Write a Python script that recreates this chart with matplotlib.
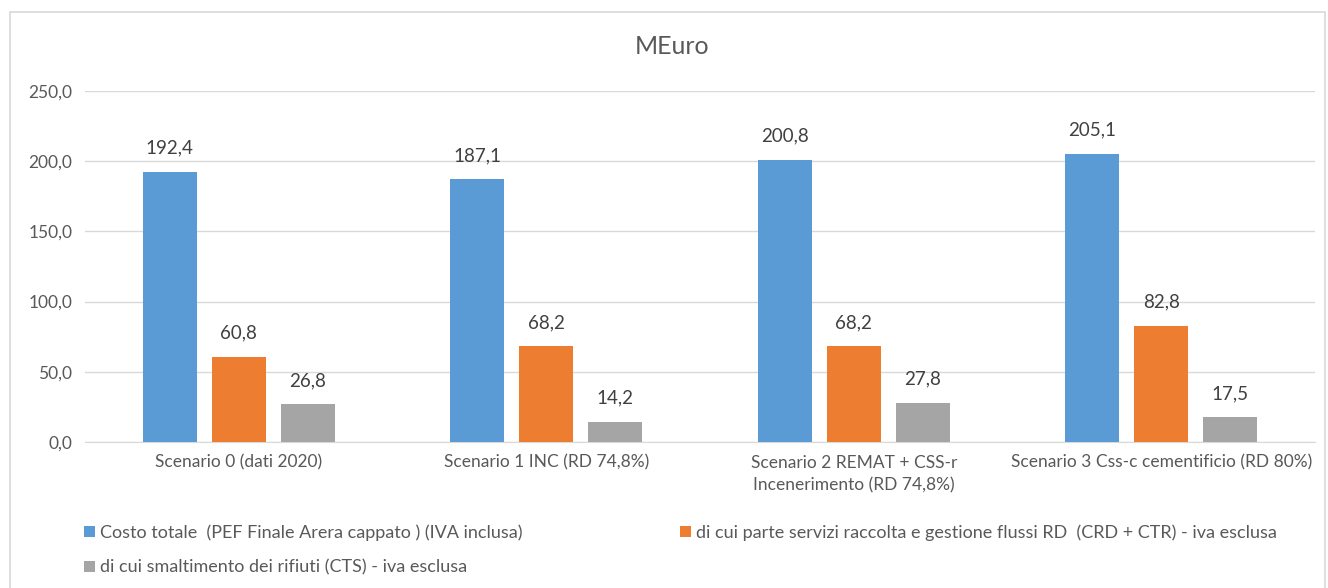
import numpy as np
import matplotlib.pyplot as plt
from matplotlib.patches import Rectangle

plt.rcParams['font.family'] = ['Lato', 'DejaVu Sans']

scenari = ['Scenario 0 (dati 2020)', 'Scenario 1 INC (RD 74,8%)',
           'Scenario 2 REMAT + CSS-r\nIncenerimento (RD 74,8%)',
           'Scenario 3 Css-c cementificio (RD 80%)']
costo_totale = [192.4, 187.1, 200.8, 205.1]
servizi_rd = [60.8, 68.2, 68.2, 82.8]
smaltimento = [26.8, 14.2, 27.8, 17.5]
serie_nomi = ['Costo totale  (PEF Finale Arera cappato ) (IVA inclusa)',
              'di cui parte servizi raccolta e gestione flussi RD  (CRD + CTR) - iva esclusa',
              'di cui smaltimento dei rifiuti (CTS) - iva esclusa']
colori = ['#5B9BD5', '#ED7D31', '#A5A5A5']
testo = '#595959'

fig = plt.figure(figsize=(13.28, 5.88), dpi=100)
fig.patches.append(Rectangle((10/1328, -0.05), 1315/1328, 1 - 12/588 + 0.05,
                             transform=fig.transFigure, fill=False,
                             edgecolor='#D9D9D9', linewidth=1.2))
ax = fig.add_axes([85/1328, 146/588, 1230/1328, 351/588])

x = np.arange(len(scenari))
w = 0.176
passo = 0.225
handles = []
for i, (vals, nome, col) in enumerate(zip([costo_totale, servizi_rd, smaltimento], serie_nomi, colori)):
    bars = ax.bar(x + (i - 1) * passo, vals, w, color=col, label=nome, zorder=3)
    ax.bar_label(bars, labels=[f'{v:.1f}'.replace('.', ',') for v in vals],
                 padding=11, fontsize=13.5, color='#404040')
    handles.append(bars)

ax.set_xlim(-0.5, len(scenari) - 0.5)
ax.set_ylim(0, 250)
ax.set_yticks(np.arange(0, 251, 50))
ax.set_yticklabels([f'{v:.1f}'.replace('.', ',') for v in np.arange(0, 251, 50)])
ax.set_xticks(x)
ax.set_xticklabels(scenari, linespacing=1.55)
ax.tick_params(axis='both', length=0, labelsize=12.5, colors=testo)
ax.tick_params(axis='x', pad=9)
ax.tick_params(axis='y', pad=9)
ax.grid(axis='y', color='#D9D9D9', linewidth=1, zorder=0)
for s in ['top', 'right', 'left']:
    ax.spines[s].set_visible(False)
ax.spines['bottom'].set_color('#D9D9D9')

fig.text(672/1328, 1 - 47/588, 'MEuro', ha='center', va='center', fontsize=18, color=testo)

# colonne riempite dall'alto: blu e grigio a sinistra, arancio a destra
ordine = [0, 2, 1]
fig.legend([handles[k] for k in ordine], [serie_nomi[k] for k in ordine],
           loc='upper left', bbox_to_anchor=(68/1328, 1 - 508/588), ncol=2,
           frameon=False, fontsize=13, handlelength=0.6, handleheight=0.6,
           handletextpad=0.3, columnspacing=8.7, labelspacing=1.05,
           labelcolor=testo)

fig.savefig('out.png', dpi=100, facecolor='white')
